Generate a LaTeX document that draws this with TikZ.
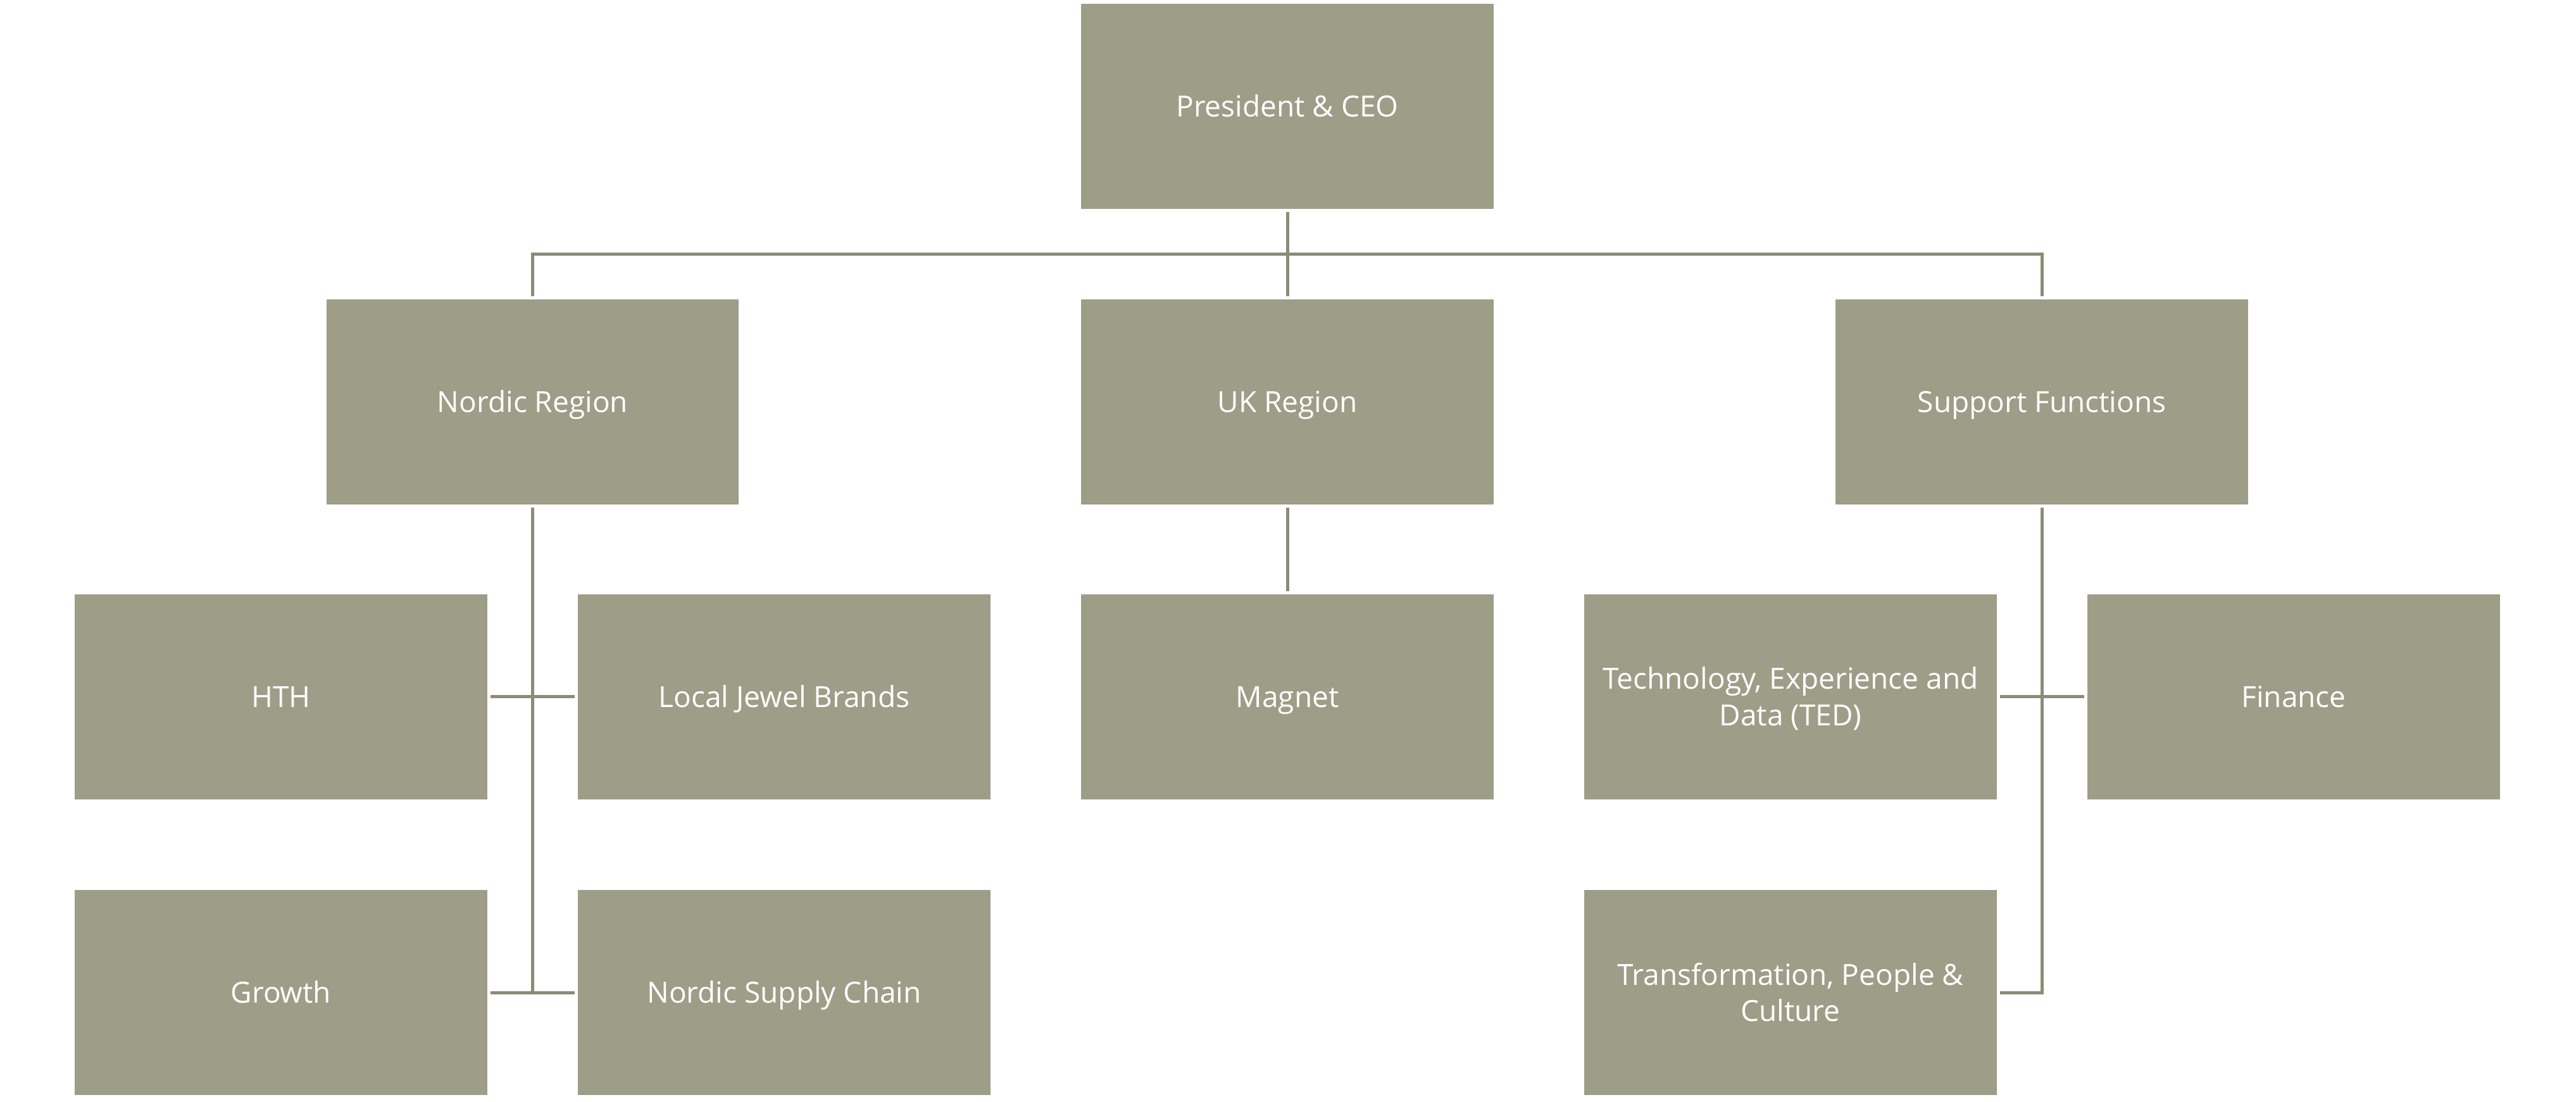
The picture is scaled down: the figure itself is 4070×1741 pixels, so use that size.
\documentclass[tikz,border=0pt]{standalone}
\usepackage{fontspec}
\setmainfont{Open Sans}
\definecolor{boxfill}{HTML}{9E9D88}
\definecolor{linecol}{HTML}{8C8B77}
\newcommand{\twolines}[2]{\rule{0pt}{10pt}#1\\#2\rule[-1.6pt]{0pt}{1.6pt}}
\begin{document}
\begin{tikzpicture}[x=0.25pt,y=-0.25pt,
  orgbox/.style={fill=boxfill,draw=none,minimum width=162.9pt,minimum height=81pt,
    inner sep=0pt,outer sep=1.3pt,text=white,align=center,
    font=\fontsize{11.5}{14.4}\selectfont,text height=8.2pt,text depth=0pt},
  twoline/.style={text height=,text depth=},
  conn/.style={draw=linecol,line width=1.25pt}]
\useasboundingbox (0,0) rectangle (4070,1741);
\node[orgbox] (ceo) at (2034,168) {President \& CEO};
\node[orgbox] (nordic) at (841.5,635) {Nordic Region};
\node[orgbox] (uk) at (2034,635) {UK Region};
\node[orgbox] (support) at (3226,635) {Support Functions};
\node[orgbox] (hth) at (444,1101) {HTH};
\node[orgbox] (jewel) at (1239,1101) {Local Jewel Brands};
\node[orgbox] (magnet) at (2034,1101) {Magnet};
\node[orgbox,twoline] (ted) at (2829,1101) {\twolines{Technology, Experience and}{Data (TED)}};
\node[orgbox] (finance) at (3624,1101) {Finance};
\node[orgbox] (growth) at (444,1568) {Growth};
\node[orgbox] (nsc) at (1239,1568) {Nordic Supply Chain};
\node[orgbox,twoline] (transf) at (2829,1568) {\twolines{Transformation, People \&}{Culture}};
\coordinate (bus) at (0,402);
\draw[conn] (ceo.south) -- (ceo |- bus);
\draw[conn] (nordic.north) -- (nordic |- bus) -- (support |- bus) -- (support.north);
\draw[conn] (uk.north) -- (uk |- bus);
\draw[conn] (nordic.south) -- (nordic |- growth);
\draw[conn] (hth.east) -- (jewel.west);
\draw[conn] (growth.east) -- (nsc.west);
\draw[conn] (uk.south) -- (magnet.north);
\draw[conn] (support.south) -- (support |- transf) -- (transf.east);
\draw[conn] (ted.east) -- (finance.west);
\end{tikzpicture}
\end{document}
